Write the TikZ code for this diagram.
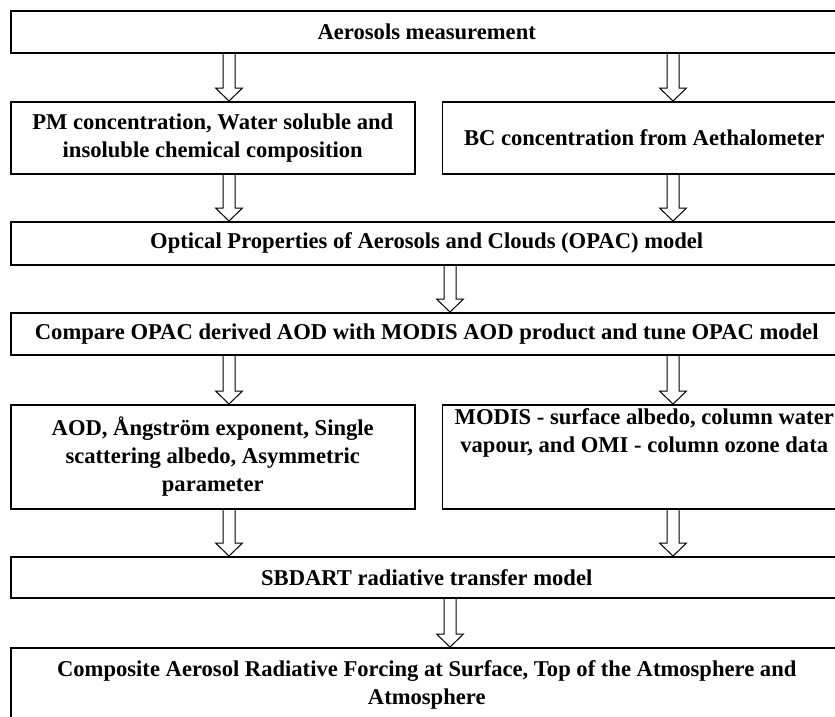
\documentclass[tikz,border=0pt]{standalone}
\usepackage{fontspec}
\setmainfont{Liberation Serif}
\usetikzlibrary{positioning, calc}

\begin{document}
\begin{tikzpicture}[x=1pt, y=1pt, wide/.style={rectangle, draw, line width=1.5pt, minimum width=832pt, minimum height=42pt, inner sep=0pt, align=center, font=\fontsize{22.6pt}{28pt}\selectfont\bfseries}, half/.style={wide, minimum width=404pt, minimum height=72pt}, fat/.style={line width=1pt, to path={let \p1=(\tikztostart), \p2=(\tikztotarget) in (\x1-6pt,\y1) -- (\x1-6pt,\y2+13pt) -- (\x1-13.5pt,\y2+13pt) -- (\x1,\y2) -- (\x1+13.5pt,\y2+13pt) -- (\x1+6pt,\y2+13pt) -- (\x1+6pt,\y1)}}, node distance=46.5pt]
        \useasboundingbox (0,0) rectangle (835,-716);
        \clip (0,0) rectangle (835,-716);

        \node[wide, anchor=north west] (meas) at (10,-10) {Aerosols measurement};
        \node[half, below=47.5pt of meas.south west, anchor=north west] (pm) {PM concentration, Water soluble and\\insoluble chemical composition};
        \node[half, right=26pt of pm] (bc) {BC concentration from Aethalometer};
        \node[wide, below=of pm.south west, anchor=north west, minimum height=43pt] (opac) {Optical Properties of Aerosols and Clouds (OPAC) model};
        \node[wide, below=of opac.south west, anchor=north west] (comp) {Compare OPAC derived AOD with MODIS AOD product and tune OPAC model};
        \node[half, below=48.5pt of comp.south west, anchor=north west, minimum height=104pt] (aod) {AOD, Ångström exponent, Single\\scattering albedo, Asymmetric\\parameter};
        \node[half, right=26pt of aod, minimum height=104pt] (modis) {};
        \node[below=4pt of modis.north, inner sep=0pt, align=center, font=\fontsize{22.6pt}{28pt}\selectfont\bfseries] (modistxt) {MODIS - surface albedo, column water\\vapour, and OMI - column ozone data};
        \node[wide, below=of aod.south west, anchor=north west, minimum height=41pt] (sbdart) {SBDART radiative transfer model};
        \node[wide, below=48.5pt of sbdart.south west, anchor=north west, minimum height=75pt] (forc) {Composite Aerosol Radiative Forcing at Surface, Top of the Atmosphere and\\Atmosphere};

        \coordinate (lc) at (229,0);
        \coordinate (mc) at (450,0);
        \coordinate (rc) at (673,0);

        \draw[fat] (meas.south -| lc) to (pm.north -| lc);
        \draw[fat] (meas.south -| rc) to (bc.north -| rc);
        \draw[fat] (pm.south -| lc) to (opac.north -| lc);
        \draw[fat] (bc.south -| rc) to (opac.north -| rc);
        \draw[fat] (opac.south -| mc) to (comp.north -| mc);
        \draw[fat] (comp.south -| lc) to (aod.north -| lc);
        \draw[fat] (comp.south -| rc) to (modis.north -| rc);
        \draw[fat] (aod.south -| lc) to (sbdart.north -| lc);
        \draw[fat] (modis.south -| rc) to (sbdart.north -| rc);
        \draw[fat] (sbdart.south -| mc) to (forc.north -| mc);
    \end{tikzpicture}
\end{document}
